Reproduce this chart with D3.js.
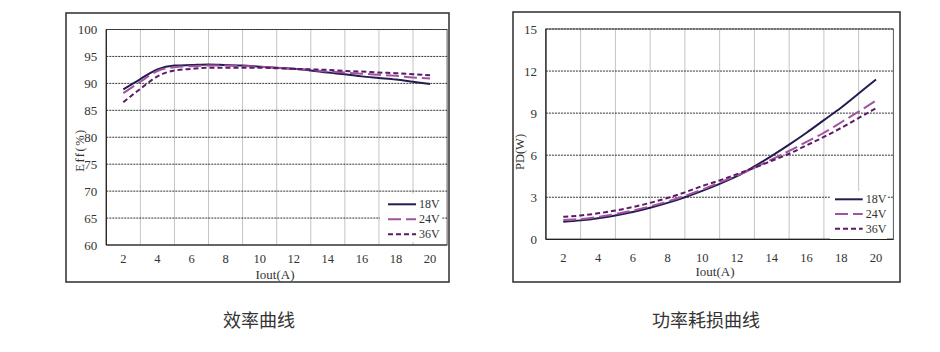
<!DOCTYPE html>
<html><head><meta charset="utf-8">
<script src="https://cdn.jsdelivr.net/npm/d3@7"></script>
<style>body{margin:0;background:#fff}svg{display:block}</style>
</head><body><svg id="c" width="940" height="352"></svg>
<script>
const iout = [2,3,4,5,6,7,8,9,10,11,12,13,14,15,16,17,18,19,20];
const xTicks = [2,4,6,8,10,12,14,16,18,20];
const xGrid = [3,5,7,9,11,13,15,17,19];
const seriesNames = ["18V","24V","36V"];
const seriesColors = ["#241c50","#a2539f","#5c1a66"];
const seriesDash = [null,"13,5","5,3"];

const eff18 = [88.9,90.8,92.6,93.3,93.4,93.5,93.4,93.3,93.1,92.9,92.7,92.4,92.0,91.7,91.3,91.0,90.7,90.3,89.9];
const eff24 = [88.2,90.3,92.3,93.0,93.2,93.3,93.3,93.2,93.1,92.9,92.7,92.5,92.2,92.0,91.8,91.6,91.4,91.1,90.9];
const eff36 = [86.5,89.0,91.3,92.4,92.7,92.9,92.9,92.9,92.9,92.8,92.7,92.6,92.5,92.3,92.2,92.0,91.9,91.7,91.5];
const effTicks = [60,65,70,75,80,85,90,95,100];

const pd18 = [1.25,1.35,1.5,1.7,1.95,2.25,2.6,3.0,3.45,3.95,4.5,5.2,5.95,6.75,7.6,8.5,9.4,10.4,11.4];
const pd24 = [1.38,1.45,1.6,1.8,2.05,2.35,2.7,3.1,3.55,4.05,4.55,5.1,5.7,6.3,6.95,7.6,8.35,9.1,9.9];
const pd36 = [1.6,1.7,1.85,2.05,2.3,2.6,2.95,3.35,3.8,4.2,4.65,5.1,5.6,6.1,6.7,7.3,7.95,8.65,9.35];
const pdTicks = [0,3,6,9,12,15];

const svg = d3.select("#c");
const serif = "'Liberation Serif','DejaVu Serif',serif";
const cjk = "'Noto Sans CJK SC','Noto Sans',sans-serif";

function drawChart(cfg){
  const g = svg.append("g");
  g.append("rect").attr("x",cfg.frame[0]).attr("y",cfg.frame[1])
   .attr("width",cfg.frame[2]-cfg.frame[0]).attr("height",cfg.frame[3]-cfg.frame[1])
   .attr("fill","none").attr("stroke","#3a3a3a").attr("stroke-width",1.6);
  const x = d3.scaleLinear().domain([1,21]).range(cfg.xr);
  const y = d3.scaleLinear().domain(cfg.yd).range(cfg.yr);
  g.selectAll(".vg").data(xGrid).join("line")
   .attr("x1",d=>x(d)).attr("x2",d=>x(d)).attr("y1",y(cfg.yd[0])).attr("y2",y(cfg.yd[1]))
   .attr("stroke","#c4c4c4").attr("stroke-width",1);
  g.append("rect").attr("x",x(1)).attr("y",y(cfg.yd[1])).attr("width",x(21)-x(1)).attr("height",y(cfg.yd[0])-y(cfg.yd[1]))
   .attr("fill","none").attr("stroke","#555").attr("stroke-width",1);
  g.selectAll(".hg").data(cfg.yTicks.slice(1)).join("line")
   .attr("x1",x(1)).attr("x2",x(21)).attr("y1",d=>y(d)).attr("y2",d=>y(d))
   .attr("stroke","#333").attr("stroke-width",1).attr("stroke-dasharray","2,1");
  g.append("line").attr("x1",x(1)).attr("x2",x(1)).attr("y1",y(cfg.yd[0])).attr("y2",y(cfg.yd[1])).attr("stroke","#222").attr("stroke-width",1.2);
  g.append("line").attr("x1",x(1)).attr("x2",x(21)).attr("y1",y(cfg.yd[0])).attr("y2",y(cfg.yd[0])).attr("stroke","#222").attr("stroke-width",1.2);
  g.selectAll(".yt").data(cfg.yTicks).join("text")
   .attr("x",x(1)-9).attr("y",d=>y(d)+4.5).attr("text-anchor","end")
   .attr("font-family",serif).attr("font-size",13).attr("fill","#333").text(d=>d);
  g.selectAll(".xt").data(xTicks).join("text")
   .attr("x",d=>x(d)).attr("y",cfg.xLabY).attr("text-anchor","middle")
   .attr("font-family",serif).attr("font-size",12.5).attr("fill","#333").text(d=>d);
  g.append("text").attr("x",cfg.xTitle[0]).attr("y",cfg.xTitle[1]).attr("text-anchor","middle")
   .attr("font-family",serif).attr("font-size",13).attr("fill","#333").text("Iout(A)");
  g.append("text").attr("transform",`translate(${cfg.yTitle[0]},${cfg.yTitle[1]}) rotate(-90)`)
   .attr("text-anchor","middle").attr("font-family",serif).attr("font-size",12.5).attr("fill","#333")
   .attr("letter-spacing",cfg.yLs).text(cfg.yLabel);
  const line = d3.line().x((d,i)=>x(iout[i])).y(d=>y(d)).curve(d3.curveMonotoneX);
  cfg.data.forEach((s,k)=>{
    g.append("path").attr("d",line(s)).attr("fill","none")
     .attr("stroke",seriesColors[k]).attr("stroke-width",2)
     .attr("stroke-dasharray",seriesDash[k]);
  });
  const L = cfg.legend;
  g.append("rect").attr("x",L.box[0]).attr("y",L.box[1]).attr("width",L.box[2]).attr("height",L.box[3]).attr("fill","#fff");
  seriesNames.forEach((n,k)=>{
    const yy = L.y0 + k*L.dy;
    g.append("line").attr("x1",L.x0).attr("x2",L.x1).attr("y1",yy).attr("y2",yy)
     .attr("stroke",seriesColors[k]).attr("stroke-width",2).attr("stroke-dasharray",seriesDash[k]);
    g.append("text").attr("x",L.x1+3).attr("y",yy+4).attr("font-family",serif).attr("font-size",12)
     .attr("fill","#333").text(n);
  });
  svg.append("text").attr("x",cfg.cap[0]).attr("y",cfg.cap[1]).attr("text-anchor","middle")
   .attr("font-family",cjk).attr("font-size",18).attr("fill","#333").text(cfg.caption);
}

drawChart({
  frame:[66,13,449,282], xr:[106.3,447.1], yd:[60,100], yr:[245,29.5], yTicks:effTicks,
  xLabY:263, xTitle:[275,278.5], yTitle:[84,150], yLabel:"Eff(%)", yLs:1.5,
  data:[eff18,eff24,eff36],
  legend:{box:[380,194,62,48], x0:388, x1:416, y0:204.3, dy:15},
  cap:[259,327], caption:"效率曲线"
});
drawChart({
  frame:[513,12,900,282], xr:[545.9,893.4], yd:[0,15], yr:[239.3,29], yTicks:pdTicks,
  xLabY:262, xTitle:[715,276], yTitle:[524,152], yLabel:"PD(W)", yLs:0,
  data:[pd18,pd24,pd36],
  legend:{box:[830,191,57,48], x0:835, x1:862.7, y0:199.3, dy:14.7},
  cap:[706,327], caption:"功率耗损曲线"
});
</script></body></html>
